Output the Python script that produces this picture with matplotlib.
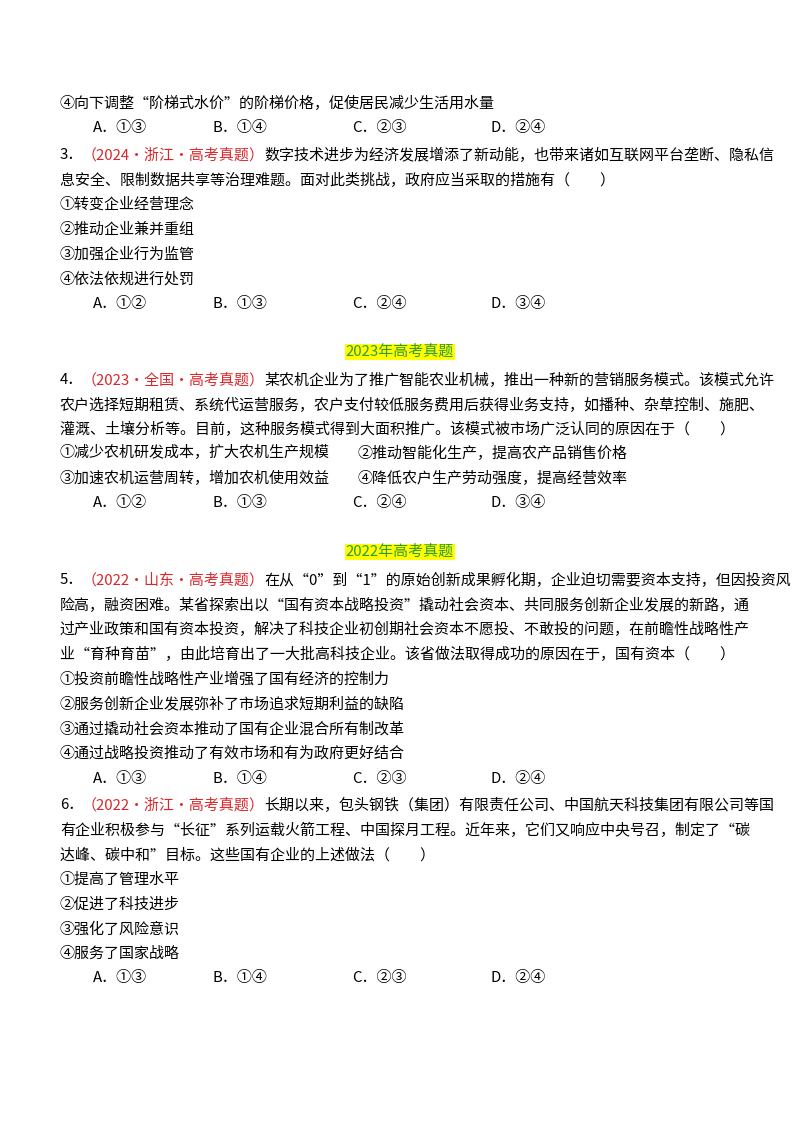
import matplotlib.pyplot as plt

plt.rcParams['font.family'] = ['Noto Sans CJK SC', 'DejaVu Sans']
FS = 10.8
RED = '#d9282b'

# page lines: (y pixel, text, optional red source)
lines_top = [
    (104, '④向下调整“阶梯式水价”的阶梯价格，促使居民减少生活用水量'),
]
q3_head = ('3．', '（2024·浙江·高考真题）', '数字技术进步为经济发展增添了新动能，也带来诸如互联网平台垄断、隐私信')
q3_lines = ['息安全、限制数据共享等治理难题。面对此类挑战，政府应当采取的措施有（　　）',
            '①转变企业经营理念', '②推动企业兼并重组', '③加强企业行为监管', '④依法依规进行处罚']
q4_head = ('4．', '（2023·全国·高考真题）', '某农机企业为了推广智能农业机械，推出一种新的营销服务模式。该模式允许')
q4_lines = ['农户选择短期租赁、系统代运营服务，农户支付较低服务费用后获得业务支持，如播种、杂草控制、施肥、',
            '灌溉、土壤分析等。目前，这种服务模式得到大面积推广。该模式被市场广泛认同的原因在于（　　）']
q4_opts = [('①减少农机研发成本，扩大农机生产规模', '②推动智能化生产，提高农产品销售价格'),
           ('③加速农机运营周转，增加农机使用效益', '④降低农户生产劳动强度，提高经营效率')]
q5_head = ('5．', '（2022·山东·高考真题）', '在从“0”到“1”的原始创新成果孵化期，企业迫切需要资本支持，但因投资风')
q5_lines = ['险高，融资困难。某省探索出以“国有资本战略投资”撬动社会资本、共同服务创新企业发展的新路，通',
            '过产业政策和国有资本投资，解决了科技企业初创期社会资本不愿投、不敢投的问题，在前瞻性战略性产',
            '业“育种育苗”，由此培育出了一大批高科技企业。该省做法取得成功的原因在于，国有资本（　　）',
            '①投资前瞻性战略性产业增强了国有经济的控制力', '②服务创新企业发展弥补了市场追求短期利益的缺陷',
            '③通过撬动社会资本推动了国有企业混合所有制改革', '④通过战略投资推动了有效市场和有为政府更好结合']
q6_head = ('6．', '（2022·浙江·高考真题）', '长期以来，包头钢铁（集团）有限责任公司、中国航天科技集团有限公司等国')
q6_lines = ['有企业积极参与“长征”系列运载火箭工程、中国探月工程。近年来，它们又响应中央号召，制定了“碳',
            '达峰、碳中和”目标。这些国有企业的上述做法（　　）',
            '①提高了管理水平', '②促进了科技进步', '③强化了风险意识', '④服务了国家战略']
answers = {128: ['①③', '①④', '②③', '②④'], 304: ['①②', '①③', '②④', '③④'],
           503: ['①②', '①③', '②④', '③④'], 779: ['①③', '①④', '②③', '②④'],
           978: ['①③', '①④', '②③', '②④']}
headers = [(352, '2023年高考真题'), (552, '2022年高考真题')]

W, H = 800, 1132
fig = plt.figure(figsize=(8, 11.32), dpi=100)
ax = fig.add_axes([0, 0, 1, 1])
ax.set_xlim(0, W)
ax.set_ylim(H, 0)
ax.axis('off')
r = fig.canvas.get_renderer()
X0 = 60


def put(x, y, s, **kw):
    return ax.text(x, y, s, fontsize=FS, va='center', ha='left', **kw)


def put_head(y, head):
    num, src, rest = head
    t = put(X0, y, num)
    bb = t.get_window_extent(r)
    t = put(bb.x1 - 2, y, src, color=RED)
    bb = t.get_window_extent(r)
    put(bb.x1, y, rest)


def put_block(y0, lines, step=24.8):
    for i, s in enumerate(lines):
        put(X0, y0 + i * step, s)


for y, s in lines_top:
    put(X0, y, s)
put_head(155, q3_head)
put_block(180, q3_lines)
put_head(380, q4_head)
put_block(405, q4_lines)
for i, (a, b) in enumerate(q4_opts):
    put(X0, 453 + i * 25, a)
    put(358, 453 + i * 25, b)
put_head(580, q5_head)
put_block(605, q5_lines)
put_head(805, q6_head)
put_block(830, q6_lines)

for y, opts in answers.items():
    for lab, x, o in zip('ABCD', [93, 213, 352, 491], opts):
        put(x, y, lab + '．' + o)

for y, s in headers:
    ax.text(400, y, s, fontsize=FS, ha='center', va='center', color='#2e9a3a',
            bbox=dict(boxstyle='square,pad=0.05', fc='#ffff00', ec='none'))

fig.savefig('out.png', dpi=100)
